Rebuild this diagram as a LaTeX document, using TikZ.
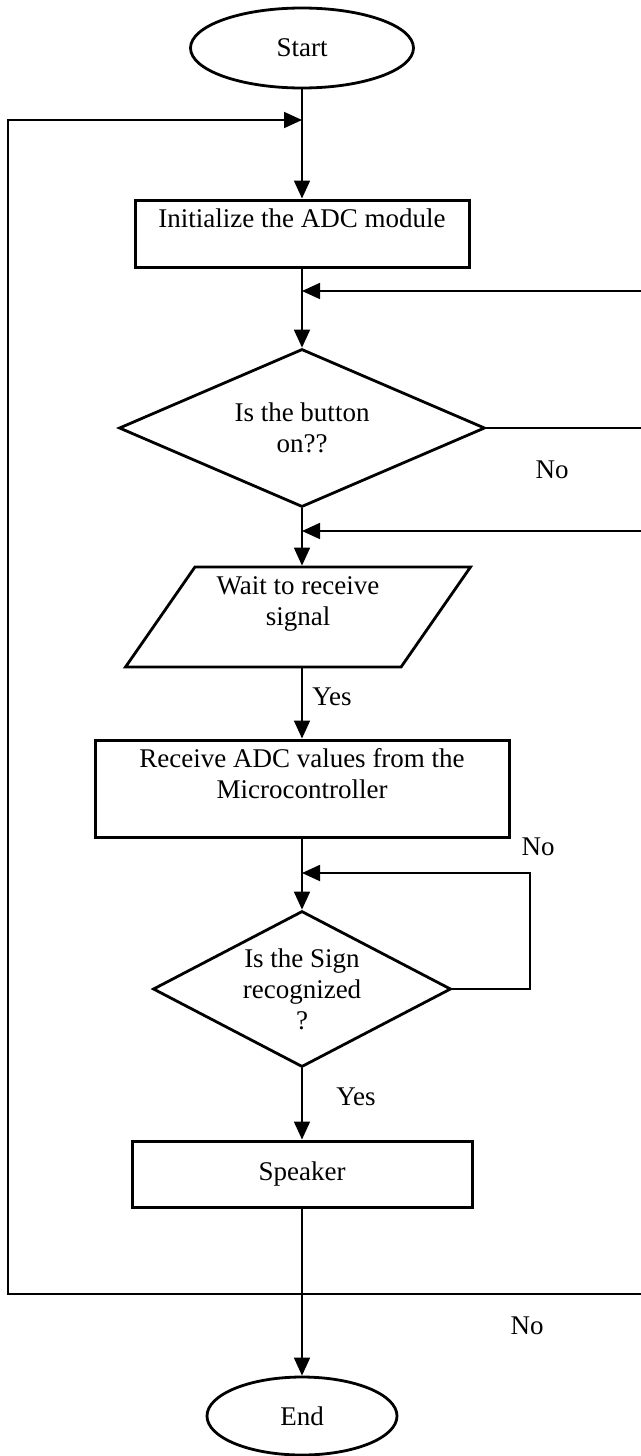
\documentclass[tikz,border=0pt]{standalone}
\usepackage{fontspec}
\setmainfont{Liberation Serif}
\usepackage{tikz}
\usetikzlibrary{arrows.meta,shapes.geometric}
\tikzset{
  ar/.style={-{Triangle[length=9pt,width=8pt]},line width=0.9pt},
  ln/.style={line width=0.9pt},
  box/.style={draw,line width=1.5pt,rectangle,align=center,inner sep=0pt},
  term/.style={draw,ellipse,line width=1.4pt,inner sep=0pt},
  dec/.style={draw,diamond,line width=1.4pt,align=center,inner sep=0pt},
  io/.style={draw,trapezium,trapezium left angle=49,trapezium right angle=131,
    trapezium stretches body,line width=1.4pt,align=center,inner sep=0pt},
  lbl/.style={inner sep=0pt}
}

\begin{document}
\begin{tikzpicture}[x=0.5pt,y=-0.5pt,font=\fontsize{13.5}{15.5}\selectfont]
\useasboundingbox (0,0) rectangle (641,1456);
% main column
\node[term,minimum width=111.5pt,minimum height=40pt] (start) at (302,48) {Start};
\node[box,minimum width=167pt,minimum height=33.5pt] (init) at (302,233.5) {Initialize the ADC module\\~};
\node[dec,minimum width=183pt,minimum height=79pt,aspect=2.3] (btn) at (302,428) {Is the button\\on??};
\node[io,minimum width=172.5pt,minimum height=50pt] (wait) at (298,617) {Wait to receive\\signal\\~};
\node[box,minimum width=207pt,minimum height=48.5pt] (recv) at (302,788.5) {Receive ADC values from the\\Microcontroller\\~};
\node[dec,minimum width=149pt,minimum height=78pt,aspect=1.9] (sign) at (302,989) {Is the Sign\\recognized\\?};
\node[box,minimum width=170pt,minimum height=33pt] (spk) at (302,1174) {Speaker};
\node[term,minimum width=95pt,minimum height=39pt] (stop) at (302,1416) {End};
% labels
\node[lbl] (no1) at (552,470) {No};
\node[lbl] (yes1) at (332,697) {Yes};
\node[lbl] (no2) at (538,847) {No};
\node[lbl] (yes2) at (356,1097) {Yes};
\node[lbl] (no3) at (527,1326) {No};
% joins and free ends
\coordinate (j0) at (302,120);
\coordinate (lt) at (8,120);
\coordinate (rb) at (641,1294);
\coordinate (r1) at (641,291);
\coordinate (j1) at (302,291);
\coordinate (r2) at (641,531);
\coordinate (j2) at (302,531);
\coordinate (r3) at (530,873);
\coordinate (j3) at (302,873);
% flow
\draw[ar] (start) -- (init);
\draw[ar] (init) -- (btn);
\draw[ar] (btn) -- (btn |- wait.north);
\draw[ar] (btn |- wait.south) -- (btn |- recv.north);
\draw[ar] (recv) -- (sign);
\draw[ar] (sign) -- (spk);
\draw[ar] (spk) -- (stop);
\draw[ar] (r1) -- (j1);
\draw[ln] (btn.east) -- (btn.east -| r1);
\draw[ar] (r2) -- (j2);
\draw[ar] (sign.east) -| (r3) -- (j3);
\draw[ar] (rb) -| (lt) -- (j0);
\end{tikzpicture}
\end{document}
